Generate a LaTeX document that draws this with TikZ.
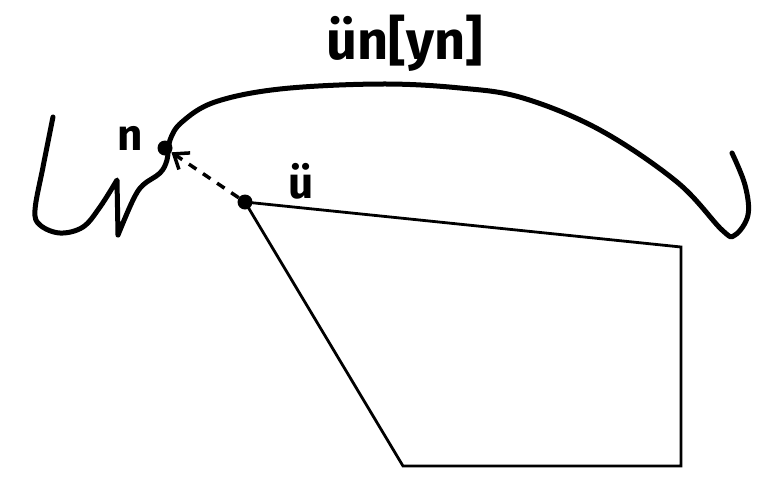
\documentclass[tikz,border=0pt]{standalone}
\usepackage{fontspec}
\setmainfont{Fira Sans}
\usetikzlibrary{arrows.meta}
\tikzset{
  curveline/.style={line width=5pt, line cap=round, line join=round},
  polyline/.style={line width=2.8pt, line join=miter},
  dotpt/.style={circle, fill=black, inner sep=0pt, minimum size=15pt},
  lbl/.style={font=\fontsize{44}{44}\selectfont\bfseries, inner sep=0pt},
  toplbl/.style={font=\fontsize{54}{54}\selectfont\bfseries, inner sep=0pt},
  dasharrow/.style={line width=3.5pt, dash pattern=on 9pt off 8pt, -{Straight Barb[length=13pt,width=20pt]}}
}
\begin{document}
\begin{tikzpicture}[x=1pt,y=-1pt]
\useasboundingbox (0,0) rectangle (779,491);
% outline curve
\draw[curveline] plot[smooth, tension=0.6] coordinates {(53,117) (43,167) (35,210) (40,225) (60,233) (83,227) (100,207) (117,180)}
  -- (118,235)
  plot[smooth, tension=0.6] coordinates {(118,235) (133,200) (143,185) (160,173) (167,160) (170,140) (182,122) (215,102) (280,89) (380,84) (460,88) (523,98) (600,130) (677,182) (722,230) (735,235) (748,215) (745,185) (732,153)};
% polygon
\node[dotpt] (u) at (245,202) {};
\node[dotpt] (n) at (165,148) {};
\coordinate (c1) at (681,247);
\coordinate (c2) at (681,466);
\coordinate (c3) at (403,466);
\draw[polyline] (u.center) -- (c1) -- (c2) -- (c3) -- cycle;
\draw[dasharrow] (u) -- (n);
% labels
\node[toplbl] (lt) at (405,43) {ün[yn]};
\node[lbl] (ln) at (130,138) {n};
\node[lbl] (lu) at (301,181) {ü};
\end{tikzpicture}
\end{document}
